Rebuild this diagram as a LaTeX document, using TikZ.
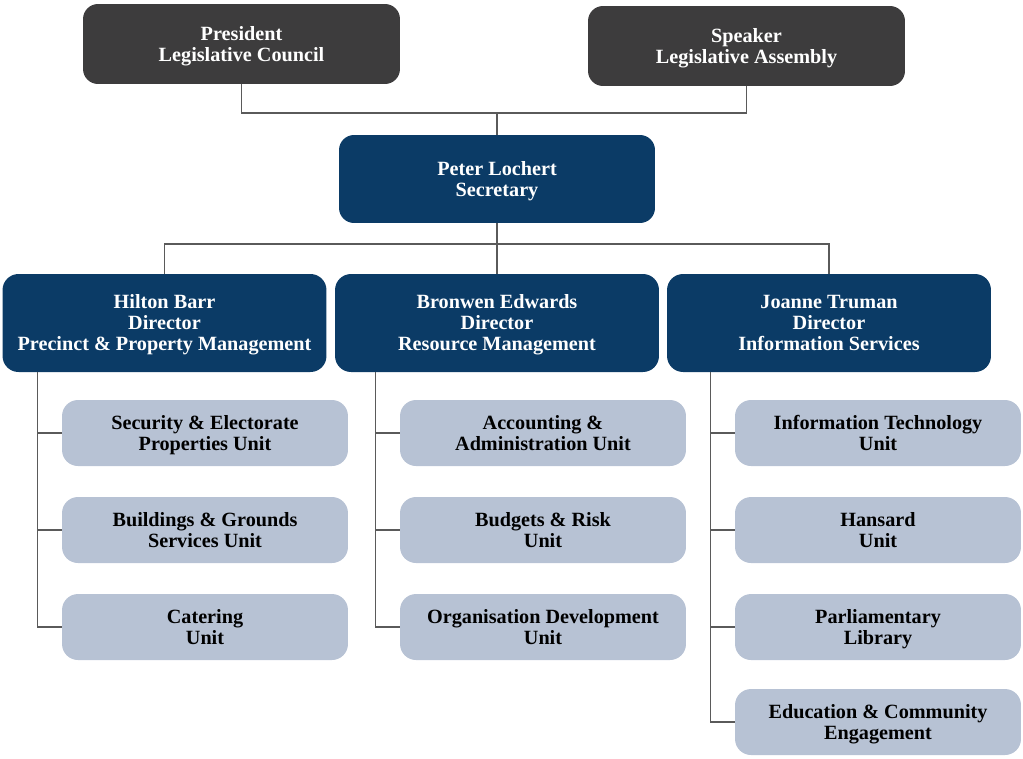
\documentclass[tikz,border=0pt]{standalone}
\usepackage{fontspec}
\setmainfont{Liberation Serif}
\usepackage{xcolor}
\usepackage{tikz}

\definecolor{chair}{HTML}{3D3C3D}
\definecolor{navy}{HTML}{0B3B66}
\definecolor{unitbg}{HTML}{B7C2D4}
\definecolor{wire}{HTML}{5A5A5A}

\begin{document}
\begin{tikzpicture}[x=0.02cm, y=-0.02cm,
        box/.style={inner sep=0pt, align=center, text depth=0.3pt, font=\bfseries\fontsize{11.5}{12}\selectfont},
        chairbox/.style={box, fill=chair, text=white, rounded corners=0.3cm, minimum width=6.34cm, minimum height=1.6cm},
        secbox/.style={box, fill=navy, text=white, rounded corners=0.3cm, minimum width=6.32cm, minimum height=1.76cm},
        dirbox/.style={box, fill=navy, text=white, rounded corners=0.32cm, minimum width=6.48cm, minimum height=1.96cm},
        unitbox/.style={box, fill=unitbg, text=black, rounded corners=0.32cm, minimum width=5.72cm, minimum height=1.32cm},
        link/.style={draw=wire, line width=0.6pt}]
        \useasboundingbox (0,0) rectangle (1023,758);
        % presiding officers and secretary
        \node[chairbox] (pres) at (241.5,44) {President\\Legislative Council};
        \node[chairbox] (speaker) at (746.5,46) {Speaker\\Legislative Assembly};
        \node[secbox] (sec) at (497,179) {Peter Lochert\\Secretary};
        % directors
        \node[dirbox] (dirA) at (164.5,323) {Hilton Barr\\Director\\Precinct \& Property Management};
        \node[dirbox] (dirB) at (497,323) {Bronwen Edwards\\Director\\Resource Management};
        \node[dirbox] (dirC) at (829,323) {Joanne Truman\\Director\\Information Services};
        % units
        \node[unitbox] (uA1) at (205,433) {Security \& Electorate\\Properties Unit};
        \node[unitbox] (uA2) at (205,530) {Buildings \& Grounds\\Services Unit};
        \node[unitbox] (uA3) at (205,627) {Catering\\Unit};
        \node[unitbox] (uB1) at (543,433) {Accounting \&\\Administration Unit};
        \node[unitbox] (uB2) at (543,530) {Budgets \& Risk\\Unit};
        \node[unitbox] (uB3) at (543,627) {Organisation Development\\Unit};
        \node[unitbox] (uC1) at (878,433) {Information Technology\\Unit};
        \node[unitbox] (uC2) at (878,530) {Hansard\\Unit};
        \node[unitbox] (uC3) at (878,627) {Parliamentary\\Library};
        \node[unitbox] (uC4) at (878,722) {Education \& Community\\Engagement};

        % top connectors
        \coordinate (join) at (497,113);
        \draw[link] (pres.south) |- (join) -| (speaker.south);
        \draw[link] (join) -- (sec.north);
        \coordinate (split) at (497,244);
        \draw[link] (sec.south) -- (split);
        \draw[link] (dirA.north) |- (split) -| (dirC.north);
        \draw[link] (split) -- (dirB.north);

        % spines down to the units
        \foreach \d/\c/\n in {dirA/A/3, dirB/B/3, dirC/C/4} {
            \coordinate (sp\c) at ([xshift=-0.48cm]u\c1.west);
            \draw[link] (sp\c |- \d.south) |- (u\c\n.west);
            \foreach \i in {1,...,\n}
                \draw[link] (sp\c |- u\c\i.west) -- (u\c\i.west);
        }
    \end{tikzpicture}
\end{document}
